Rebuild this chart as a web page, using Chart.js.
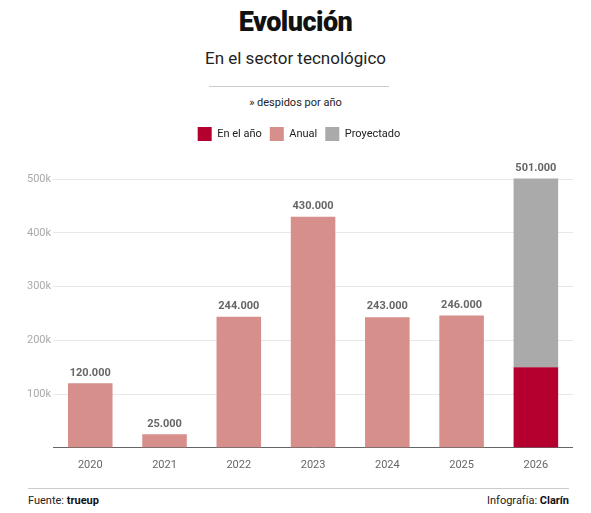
<!DOCTYPE html>
<html>
<head>
<meta charset="utf-8">
<script src="https://cdn.jsdelivr.net/npm/chart.js@4"></script>
<style>
  body { margin: 0; width: 591px; height: 513px; background: #fff; font-family: Roboto, sans-serif; position: relative; }
  .title { position: absolute; top: 6px; width: 100%; text-align: center; font-size: 27px; font-weight: 900; color: #111; letter-spacing: -0.5px; }
  .sub { position: absolute; top: 48px; width: 100%; text-align: center; font-size: 17px; color: #222; }
  .rule { position: absolute; top: 86px; left: 209px; width: 180px; border-top: 1px solid #ccc; }
  .unit { position: absolute; top: 96px; width: 100%; text-align: center; font-size: 11px; color: #222; }
  .foot { position: absolute; top: 488px; left: 28px; width: 541px; border-top: 1px solid #ccc; font-size: 11px; color: #222; padding-top: 5px; }
  .foot b { font-weight: 700; color: #111; }
  .foot .r { float: right; }
  #wrap { position: absolute; top: 119px; left: 10px; width: 563px; height: 356px; }
</style>
</head>
<body>
<div class="title">Evolución</div>
<div class="sub">En el sector tecnológico</div>
<div class="rule"></div>
<div class="unit">» despidos por año</div>
<div id="wrap"><canvas id="chart"></canvas></div>
<div class="foot"><span>Fuente: <b>trueup</b></span><span class="r">Infografía: <b>Clarín</b></span></div>
<script>
const years = ['2020', '2021', '2022', '2023', '2024', '2025', '2026'];
const enElAnio = [null, null, null, null, null, null, 150000];
const anual = [120000, 25000, 244000, 430000, 243000, 246000, null];
const proyectado = [null, null, null, null, null, null, 351000];
const yTicks = [0, 100000, 200000, 300000, 400000, 500000];

const totalLabels = {
  id: 'totalLabels',
  afterDatasetsDraw(chart) {
    const ctx = chart.ctx;
    ctx.save();
    ctx.font = 'bold 11px Roboto, sans-serif';
    ctx.fillStyle = '#666';
    ctx.textAlign = 'center';
    ctx.textBaseline = 'bottom';
    years.forEach((y, i) => {
      let total = 0, top = Infinity, x = 0;
      chart.data.datasets.forEach((ds, d) => {
        const v = ds.data[i];
        if (v == null) return;
        total += v;
        const el = chart.getDatasetMeta(d).data[i];
        if (el.y < top) { top = el.y; x = el.x; }
      });
      ctx.fillText(total.toLocaleString('de-DE'), x, top - 5);
    });
    ctx.restore();
  }
};

// extra space under the legend
const legendGap = {
  id: 'legendGap',
  beforeInit(chart) {
    const fit = chart.legend.fit;
    chart.legend.fit = function () {
      fit.bind(chart.legend)();
      this.height += 28;
    };
  }
};

new Chart(document.getElementById('chart'), {
  type: 'bar',
  data: {
    labels: years,
    datasets: [
      { label: 'En el año', data: enElAnio, backgroundColor: '#b5002f' },
      { label: 'Anual', data: anual, backgroundColor: '#d68f8a' },
      { label: 'Proyectado', data: proyectado, backgroundColor: '#aaaaaa' }
    ]
  },
  options: {
    responsive: true,
    maintainAspectRatio: false,
    animation: false,
    layout: { padding: { top: 0, right: 0, left: 15, bottom: 0 } },
    datasets: { bar: { categoryPercentage: 0.6, barPercentage: 1, clip: false } },
    plugins: {
      legend: {
        position: 'top',
        labels: {
          boxWidth: 14, boxHeight: 14, padding: 8,
          color: '#222', font: { size: 11, family: 'Roboto, sans-serif' }
        }
      },
      tooltip: { enabled: false }
    },
    scales: {
      x: {
        stacked: true,
        grid: { display: false },
        border: { color: '#666', width: 1 },
        ticks: { color: '#666', font: { size: 11, family: 'Roboto, sans-serif' } }
      },
      y: {
        stacked: true,
        min: 0, max: 500000,
        afterBuildTicks: (axis) => { axis.ticks = yTicks.map(v => ({ value: v })); },
        grid: { color: '#e8e8e8', drawTicks: false },
        border: { display: false },
        ticks: {
          color: '#aaa', padding: 2,
          font: { size: 11, family: 'Roboto, sans-serif' },
          callback: (v) => v === 0 ? '' : (v / 1000) + 'k'
        }
      }
    }
  },
  plugins: [totalLabels, legendGap]
});
</script>
</body>
</html>
